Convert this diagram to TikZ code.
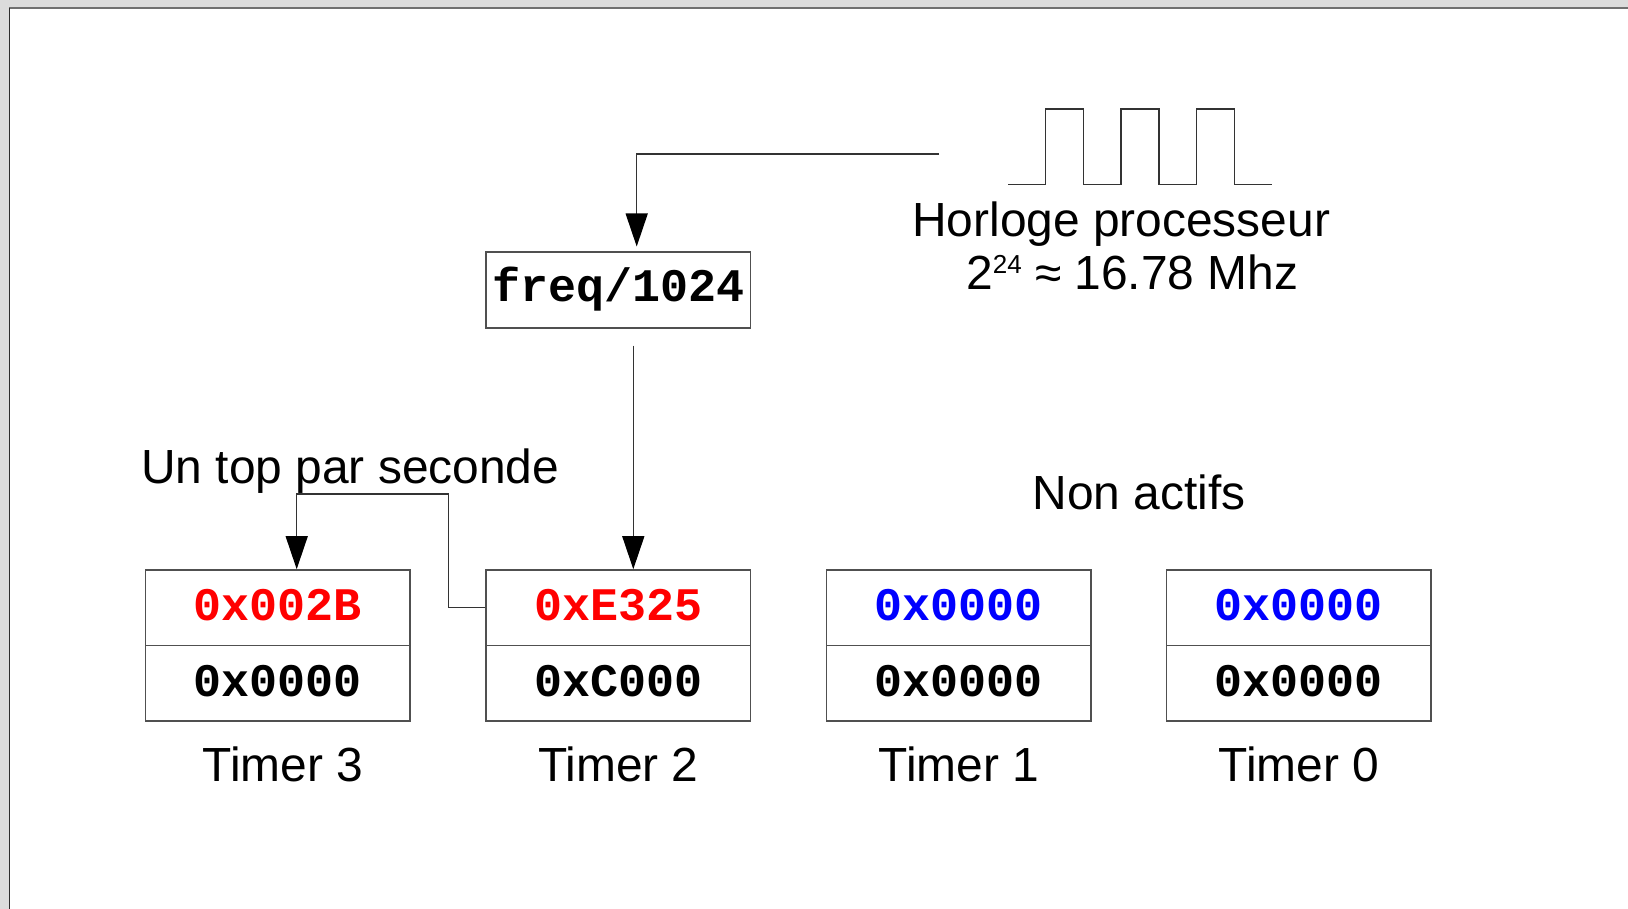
\documentclass[tikz,border=0pt]{standalone}
\usepackage{fontspec}
\setmainfont{Liberation Sans}
\setmonofont{Liberation Mono}
\usetikzlibrary{arrows.meta}
\definecolor{pagegray}{HTML}{DCDCDC}
\definecolor{edgegray}{HTML}{707070}
\definecolor{sidegray}{HTML}{2E2E2E}
\definecolor{wiregray}{HTML}{333333}
\definecolor{boxgray}{HTML}{505050}

\begin{document}
\begin{tikzpicture}
[x=1pt,y=-1pt,
 wire/.style={draw=wiregray,line width=1.3pt},
 feed/.style={wire,-{Triangle[length=33pt,width=22pt,color=black]}},
 reg/.style={draw=boxgray,line width=1.6pt,
             minimum width=264.6pt,minimum height=75.6pt,inner sep=0pt,
             font=\fontsize{46.7}{50}\selectfont\ttfamily\bfseries,
             text height=30pt,text depth=4pt},
 words/.style={inner sep=0pt,font=\fontsize{47.9}{55}\selectfont}]
\useasboundingbox (0,0) rectangle (1628,909);
% page
\fill[pagegray] (0,0) rectangle (1628,909);
\fill[white] (9,8) rectangle (1628,909);
\draw[edgegray,line width=2pt] (9,8) -- (1628,8);
\draw[sidegray,line width=1.5pt] (9.3,8) -- (9.3,909);

% clock
\draw[wire] (1008.3,184.3) -| (1045.7,109) -| (1083.3,184.3)
  -| (1121,109) -| (1159,184.3) -| (1196.7,109) -| (1234.3,184.3)
  -- (1272.3,184.3);
\node[words,anchor=base west] (clkname) at (912,236.7) {Horloge processeur};
\node[words,anchor=base west] (clkrate) at (966,290)
  {2\raisebox{16pt}{\fontsize{26}{26}\selectfont 24} ≈ 16.78 Mhz};

% prescaler
\node[reg,minimum height=76pt,text height=28pt,text depth=5pt]
  (freq) at (618.3,290.3) {freq/1024};

% timers
\foreach \n/\x/\hi/\col/\lo/\dx in {3/277.9/0x002B/red/0x0000/5,
                                    2/618.3/0xE325/red/0xC000/0,
                                    1/958.8/0x0000/blue/0x0000/0,
                                    0/1298.9/0x0000/blue/0x0000/0}{
  \node[reg,text=\col] (hi\n) at (\x,607.8) {\hi};
  \node[reg] (lo\n) at (\x,683.4) {\lo};
  \node[words,anchor=base,xshift=\dx pt] (name\n) at (\x,781.7) {Timer \n};
}
\node[words,anchor=base west] (persec) at (141,483.5) {Un top par seconde};
\node[words,anchor=base west] (idle) at (1032.5,509.3) {Non actifs};

% links
\coordinate (clkin) at (939,154);
\coordinate (tick) at (448.3,494);
\draw[feed] (clkin) -| ([xshift=18.4pt,yshift=5pt]freq.north);
\draw[feed] ([xshift=15pt,yshift=-16.5pt]freq.south) -- ([xshift=15pt]hi2.north);
\draw[feed] (hi2.west) -| (tick) -| ([xshift=18.8pt]hi3.north);
\end{tikzpicture}
\end{document}
